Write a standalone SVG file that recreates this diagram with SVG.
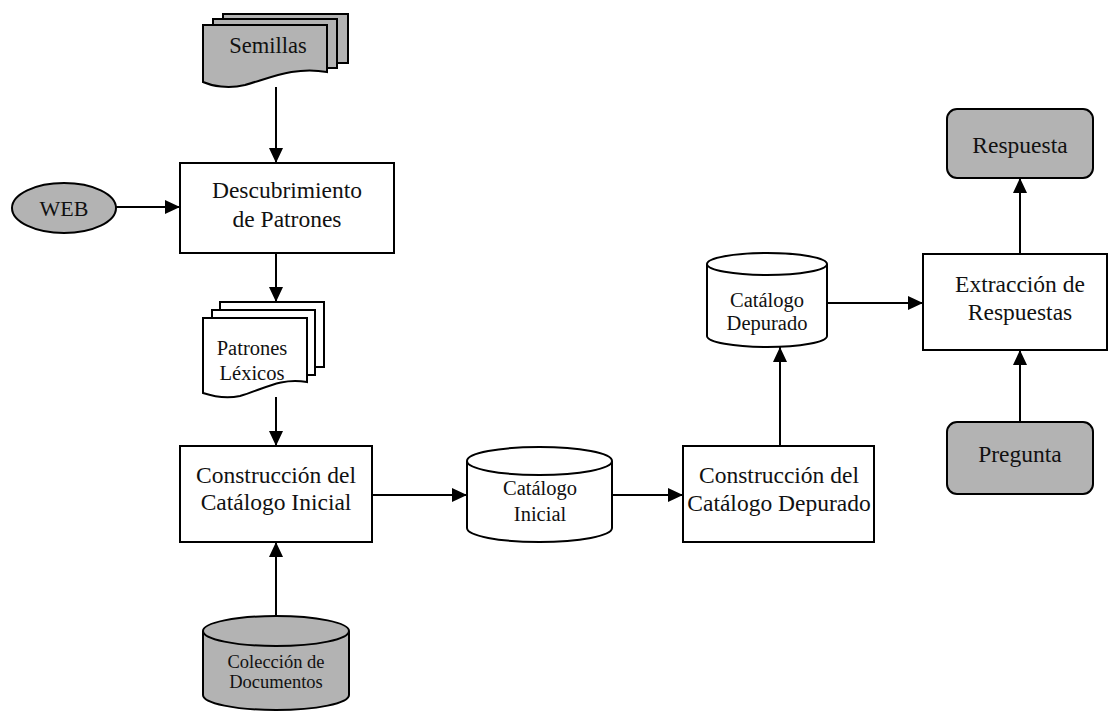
<svg xmlns="http://www.w3.org/2000/svg" width="1108" height="717" viewBox="0 0 1108 717">
<style>
.s{stroke:#000;stroke-width:2;}
.w{fill:#fff;}
.g{fill:#b3b3b3;}
.t{font-family:"Liberation Serif","Times New Roman",serif;fill:#111;text-anchor:middle;}
.b{font-size:23.5px;}
.c{font-size:20.5px;}
.cs{font-size:18.5px;}
.conn line{stroke:#000;stroke-width:2;fill:none;}
</style>
<defs>
<marker id="ah" markerUnits="userSpaceOnUse" markerWidth="16" markerHeight="14" refX="15" refY="7" orient="auto">
<path d="M0,0 L15,7 L0,14 Z" fill="#000"/>
</marker>
</defs>
<rect width="1108" height="717" fill="#fff"/>

<g id="semillas">
<rect class="s g" x="223" y="14" width="125" height="49"/>
<rect class="s g" x="213" y="19" width="124" height="49"/>
<path class="s g" d="M203,25 H327 V72 C295,66 270,78 245,85 C228,89 212,86 203,82 Z"/>
<text class="t b" x="268" y="53" style="font-size:22.5px">Semillas</text>
</g>

<g id="web">
<ellipse class="s g" cx="64" cy="208" rx="52" ry="25"/>
<text class="t" x="64" y="216" style="font-size:22px">WEB</text>
</g>

<g id="descubrimiento">
<rect class="s w" x="180" y="163" width="214" height="90"/>
<text class="t b" x="287" y="198">Descubrimiento</text>
<text class="t b" x="287" y="227">de Patrones</text>
</g>

<g id="patrones">
<rect class="s w" x="220" y="302" width="104" height="65"/>
<rect class="s w" x="212" y="310" width="103" height="65"/>
<path class="s w" d="M203,318 H307 V382 C280,377 262,390 240,396 C225,399 212,396 203,393 Z"/>
<text class="t c" x="252" y="355">Patrones</text>
<text class="t c" x="252" y="380">Léxicos</text>
</g>

<g id="construccion-inicial">
<rect class="s w" x="180" y="446" width="192" height="96"/>
<text class="t b" x="276" y="483">Construcción del</text>
<text class="t b" x="276" y="510">Catálogo Inicial</text>
</g>

<g id="coleccion">
<path class="s g" d="M203,631 V695 A73,15 0 0 0 349,695 V631"/>
<ellipse class="s g" cx="276" cy="631" rx="73" ry="15"/>
<text class="t cs" x="276" y="668">Colección de</text>
<text class="t cs" x="276" y="688">Documentos</text>
</g>

<g id="catalogo-inicial">
<path class="s w" d="M467,461 V528 A72.5,14 0 0 0 612,528 V461"/>
<ellipse class="s w" cx="539.5" cy="461" rx="72.5" ry="14"/>
<text class="t c" x="540" y="495">Catálogo</text>
<text class="t c" x="540" y="521">Inicial</text>
</g>

<g id="construccion-depurado">
<rect class="s w" x="683" y="446" width="191" height="96"/>
<text class="t b" x="779" y="483">Construcción del</text>
<text class="t b" x="779" y="511">Catálogo Depurado</text>
</g>

<g id="catalogo-depurado">
<path class="s w" d="M707,264 V336 A60,11 0 0 0 827,336 V264"/>
<ellipse class="s w" cx="767" cy="264" rx="60" ry="11"/>
<text class="t c" x="767" y="307">Catálogo</text>
<text class="t c" x="767" y="330">Depurado</text>
</g>

<g id="extraccion">
<rect class="s w" x="923" y="254" width="184" height="96"/>
<text class="t b" x="1020" y="292">Extracción de</text>
<text class="t b" x="1020" y="320">Respuestas</text>
</g>

<g id="respuesta">
<rect class="s g" x="947" y="109" width="146" height="69" rx="10"/>
<text class="t b" x="1020" y="153">Respuesta</text>
</g>

<g id="pregunta">
<rect class="s g" x="947" y="422" width="146" height="72" rx="10"/>
<text class="t b" x="1020" y="462">Pregunta</text>
</g>

<g id="connectors" class="conn">
<line x1="276" y1="87" x2="276" y2="163" marker-end="url(#ah)"/>
<line x1="116" y1="207" x2="180" y2="207" marker-end="url(#ah)"/>
<line x1="276" y1="253" x2="276" y2="302" marker-end="url(#ah)"/>
<line x1="276" y1="397" x2="276" y2="446" marker-end="url(#ah)"/>
<line x1="276" y1="616" x2="276" y2="542" marker-end="url(#ah)"/>
<line x1="372" y1="495" x2="467" y2="495" marker-end="url(#ah)"/>
<line x1="612" y1="495" x2="683" y2="495" marker-end="url(#ah)"/>
<line x1="780" y1="446" x2="780" y2="347" marker-end="url(#ah)"/>
<line x1="827" y1="303" x2="923" y2="303" marker-end="url(#ah)"/>
<line x1="1020" y1="422" x2="1020" y2="350" marker-end="url(#ah)"/>
<line x1="1020" y1="254" x2="1020" y2="178" marker-end="url(#ah)"/>
</g>
</svg>
